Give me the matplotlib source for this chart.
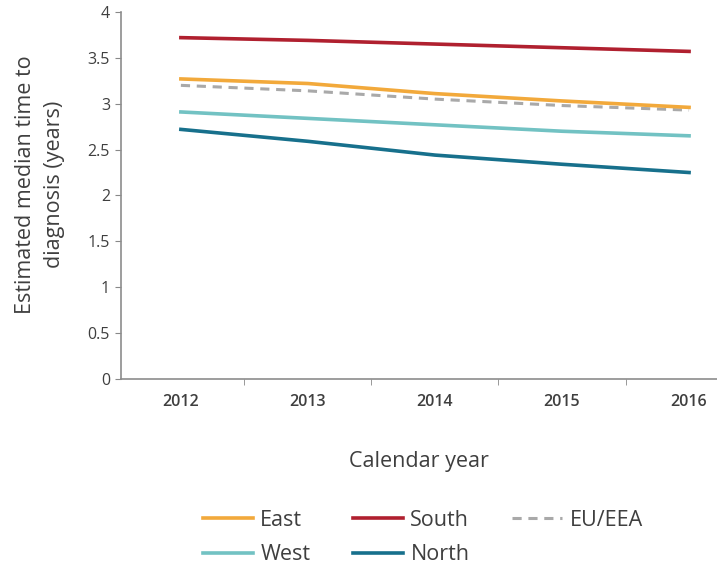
import matplotlib
matplotlib.use("Agg")
import matplotlib.pyplot as plt

years = ["2012", "2013", "2014", "2015", "2016"]
east = [3.27, 3.22, 3.11, 3.03, 2.96]
south = [3.72, 3.69, 3.65, 3.61, 3.57]
eu_eea = [3.20, 3.14, 3.05, 2.98, 2.93]
west = [2.91, 2.84, 2.77, 2.70, 2.65]
north = [2.72, 2.59, 2.44, 2.34, 2.25]

y_ticks = [0, 0.5, 1, 1.5, 2, 2.5, 3, 3.5, 4]
y_tick_labels = ["0", "0.5", "1", "1.5", "2", "2.5", "3", "3.5", "4"]

plt.rcParams['font.family'] = ['Open Sans', 'DejaVu Sans']
txt = '#3f3f3f'

fig = plt.figure(figsize=(7.17, 5.69), dpi=100)
ax = fig.add_axes([0.169, 0.334, 0.831, 0.645])

x = range(len(years))
ax.plot(x, eu_eea, color='#a9a9a9', lw=2.2, ls=(0, (3, 2.2)), label='EU/EEA', zorder=2)
ax.plot(x, west, color='#72c2c3', lw=2.6, label='West', zorder=3)
ax.plot(x, north, color='#17708c', lw=2.6, label='North', zorder=3)
ax.plot(x, east, color='#f2a93b', lw=2.6, label='East', zorder=3)
ax.plot(x, south, color='#b0202f', lw=2.6, label='South', zorder=3)

ax.set_xlim(-0.47, 4.22)
ax.set_ylim(0, 4)

ax.set_xticks(x)
ax.set_xticklabels(years, fontsize=11.5, color=txt, fontweight='semibold')
ax.tick_params(axis='x', length=0, pad=11)
ax.set_xticks([0.5, 1.5, 2.5, 3.5], minor=True)
ax.tick_params(axis='x', which='minor', length=4, color='#888888', direction='out')

ax.set_yticks(y_ticks)
ax.set_yticklabels(y_tick_labels, fontsize=11.5, color=txt)
ax.tick_params(axis='y', length=4, color='#888888', pad=4)

for s in ['top', 'right']:
    ax.spines[s].set_visible(False)
for s in ['left', 'bottom']:
    ax.spines[s].set_color('#8c8c8c')
    ax.spines[s].set_linewidth(1.2)

ax.set_xlabel('Calendar year', fontsize=15.5, color=txt, labelpad=29)
ax.set_ylabel('Estimated median time to\ndiagnosis (years)', fontsize=15.5, color=txt,
              linespacing=1.45)
ax.yaxis.set_label_coords(-0.095, 0.53)

h, l = ax.get_legend_handles_labels()
order = ['East', 'West', 'South', 'North', 'EU/EEA']
hh = [h[l.index(n)] for n in order]
fig.legend(hh, order, loc='center', bbox_to_anchor=(0.59, 0.055), ncol=3,
           frameon=False, fontsize=15.5, handlelength=2.3, handletextpad=0.35,
           columnspacing=2.0, labelspacing=0.62, labelcolor=txt)

fig.savefig('out.png', dpi=100)
